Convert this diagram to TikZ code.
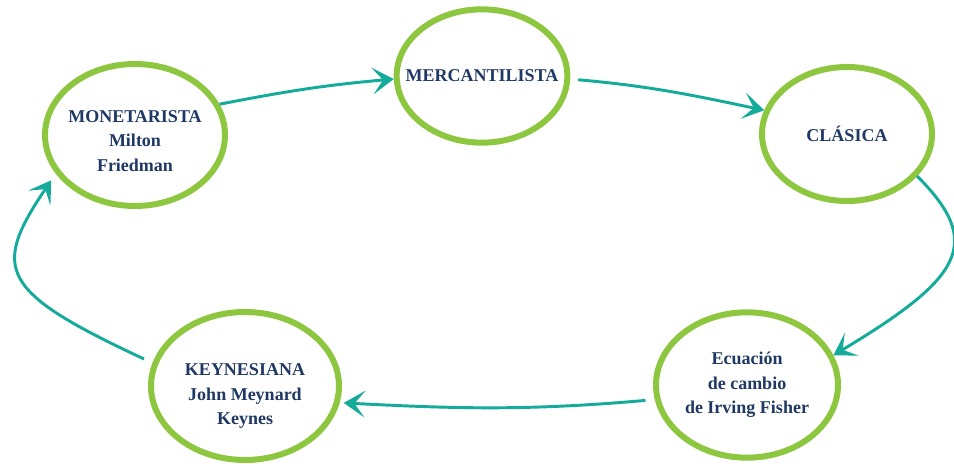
\documentclass[tikz,border=0pt]{standalone}
\usepackage{fontspec}
\setmainfont{Liberation Serif}
\usetikzlibrary{shapes.geometric, arrows.meta, positioning, calc}
\definecolor{verde}{HTML}{8DC63F}
\definecolor{turquesa}{HTML}{14AB9A}
\definecolor{azul}{HTML}{1F3864}

\begin{document}
\begin{tikzpicture}[x=0.75pt, y=0.75pt, >={Stealth[length=16pt, width=20pt, inset=8pt]}]
    \tikzset{
		school/.style={draw=verde, line width=4.5pt, fill=white, ellipse, align=center, inner xsep=-12pt, inner ysep=0pt,
			text=azul, font=\fontsize{13.5}{18.4}\selectfont\bfseries},
		link/.style={->, draw=turquesa, line width=2.2pt}
	}
	\useasboundingbox (0,0) rectangle (954,464);

	% --- Escuelas ---
	% (el \rule baja un poco el texto dentro de la elipse)
	\node [school, minimum width=135pt, minimum height=106.5pt] (mon) at (135,329) {\rule{0pt}{18pt}MONETARISTA\\ Milton\\ Friedman};
	\node [school, minimum width=127pt, minimum height=100pt] (merc) at (482,388) {MERCANTILISTA};
	\node [school, minimum width=127.5pt, minimum height=100.5pt] (clas) at (847,330) {CLÁSICA};
	\node [school, minimum width=136.5pt, minimum height=109pt] (fisher) at (747,79) {Ecuación\\ de cambio\\ de Irving Fisher};
	\node [school, minimum width=141pt, minimum height=111pt] (keynes) at (245,78) {\rule{0pt}{24pt}KEYNESIANA\\ John Meynard\\ Keynes};

	% --- Ciclo de flechas ---
	\draw [link] (mon.20) to[out=11, in=185] (merc.182);
	\draw [link, shorten <=6pt] (merc.-2) to[out=-5, in=168] (clas.164);
	% Curva exterior por la derecha
	\draw [link] (clas.-31) .. controls +(-45:95) and +(31:150) .. (fisher.19);
	\draw [link, shorten <=7pt, shorten >=3pt] (fisher.189) to[out=185, in=-3] (keynes.-10);
	% Curva exterior por la izquierda
	\draw [link, shorten <=7pt, shorten >=6pt] (keynes.166) .. controls +(155:170) and +(236:115) .. (mon.206);
\end{tikzpicture}
\end{document}
